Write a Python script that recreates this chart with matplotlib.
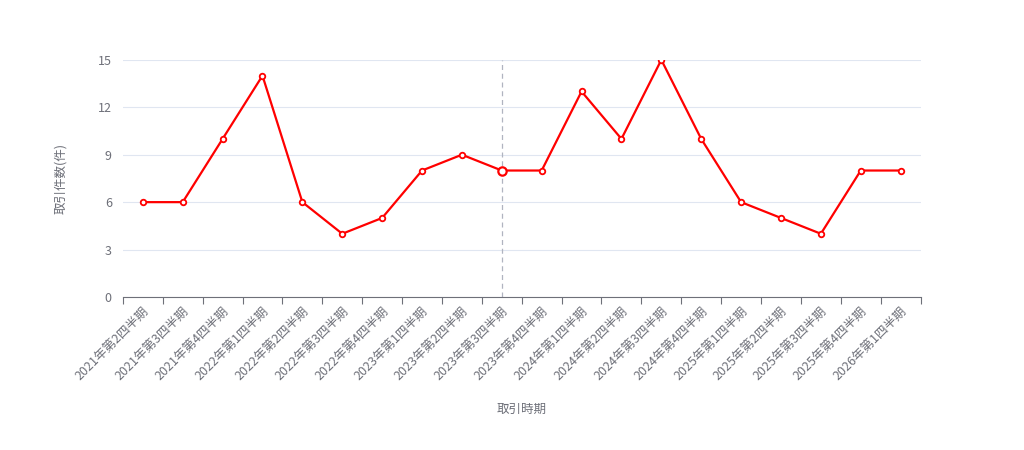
import matplotlib
matplotlib.use('Agg')
import matplotlib.pyplot as plt

plt.rcParams['font.family'] = ['Noto Sans CJK JP', 'DejaVu Sans']

quarters = ['2021年第2四半期', '2021年第3四半期', '2021年第4四半期', '2022年第1四半期',
            '2022年第2四半期', '2022年第3四半期', '2022年第4四半期', '2023年第1四半期',
            '2023年第2四半期', '2023年第3四半期', '2023年第4四半期', '2024年第1四半期',
            '2024年第2四半期', '2024年第3四半期', '2024年第4四半期', '2025年第1四半期',
            '2025年第2四半期', '2025年第3四半期', '2025年第4四半期', '2026年第1四半期']
counts = [6, 6, 10, 14, 6, 4, 5, 8, 9, 8, 8, 13, 10, 15, 10, 6, 5, 4, 8, 8]
hover_idx = 9

fig = plt.figure(figsize=(10.24, 4.5), dpi=100)
ax = fig.add_axes([0.120, 0.34, 0.779, 0.527])

x = list(range(len(quarters)))
ax.plot(x, counts, color='#ff0000', lw=1.6, marker='o', ms=4,
        mfc='white', mec='#ff0000', mew=1.3, zorder=3)
ax.plot([hover_idx], [counts[hover_idx]], 'o', ms=6, mfc='white',
        mec='#ff0000', mew=1.6, zorder=4)
ax.axvline(hover_idx, color='#b0b4c0', lw=0.9, ls=(0, (4, 3)), zorder=2)

ax.set_xlim(-0.5, len(quarters) - 0.5)
ax.set_ylim(0, 15)
ax.set_yticks([0, 3, 6, 9, 12, 15])
ax.grid(axis='y', color='#e0e6f1', lw=0.8)
ax.set_axisbelow(True)
for s in ['top', 'right', 'left']:
    ax.spines[s].set_visible(False)
ax.spines['bottom'].set_color('#6e7079')

ax.set_xticks([i - 0.5 for i in range(len(quarters) + 1)], minor=False)
ax.set_xticklabels([])
ax.tick_params(axis='x', length=5, color='#6e7079')
ax.set_xticks(x, minor=True)
ax.set_xticklabels(quarters, minor=True, rotation=45, ha='right',
                   rotation_mode='anchor', fontsize=9, color='#6e7079')
ax.tick_params(axis='x', which='minor', length=0, pad=6)
ax.tick_params(axis='y', length=0, labelsize=9, labelcolor='#6e7079', pad=8)

ax.set_ylabel('取引件数(件)', fontsize=9, color='#6e7079', labelpad=22)
ax.set_xlabel('取引時期', fontsize=9, color='#6e7079', labelpad=14)

fig.savefig('out.png', dpi=100)
